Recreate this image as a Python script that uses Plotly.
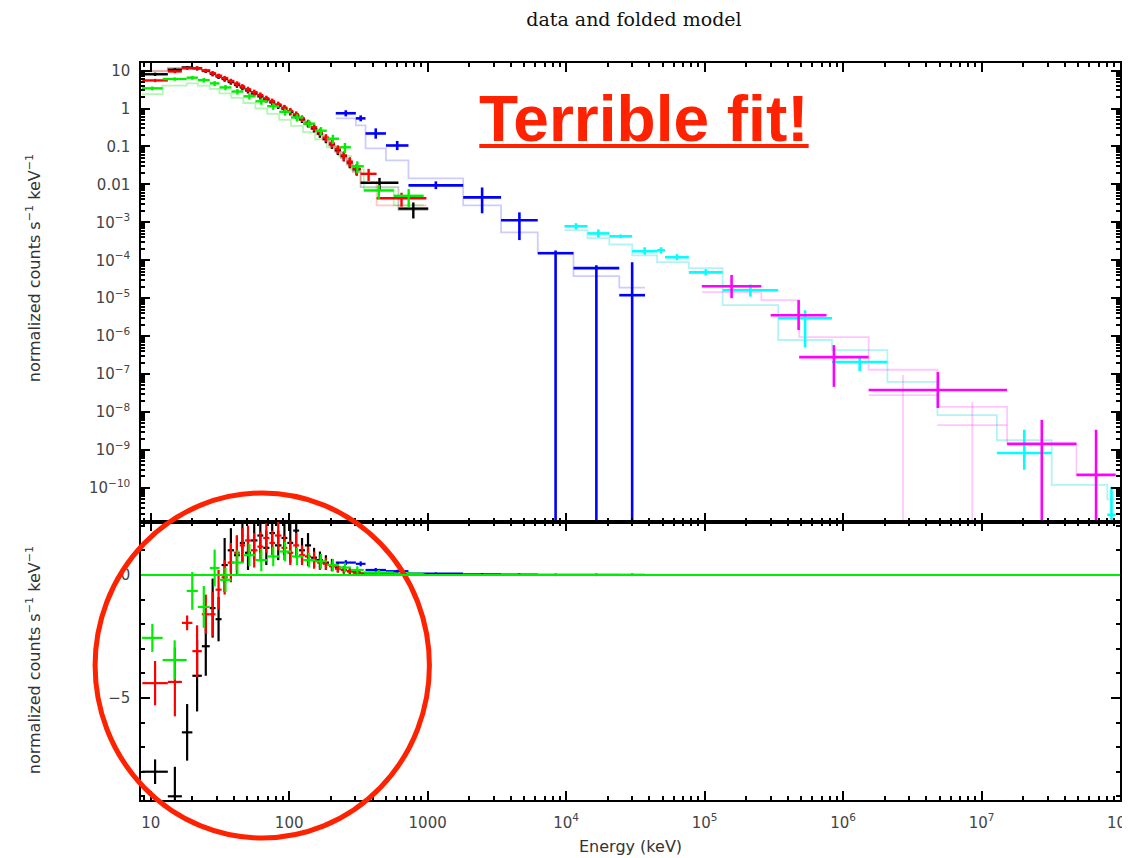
import math
import plotly.graph_objects as go

# ---------------- data (energies in keV) ----------------
# dataset 1 (black)
blk_edges = [8.7, 13.3, 16.8, 20, 23.4, 26.7, 29.4, 32.5, 36, 40, 44, 48, 53, 59, 65, 72, 79, 88, 97, 107,
             118, 130, 144, 159, 175, 194, 214, 236, 261, 288, 328, 615, 1010]
blk_flux = [8.0, 10.5, 12, 11.5, 9.8, 8.2, 7.0, 6.0, 5.0, 4.2, 3.6, 3.0, 2.5, 2.1, 1.75, 1.45, 1.2, 1.0, 0.82, 0.66,
            0.52, 0.4, 0.3, 0.22, 0.16, 0.115, 0.08, 0.056, 0.038, 0.025, 0.011, 0.0023]
blk_relerr = [0.1, 0.1, 0.1, 0.12, 0.12, 0.14, 0.14, 0.15, 0.15, 0.16, 0.16, 0.17, 0.17, 0.18, 0.18, 0.18, 0.19,
              0.19, 0.2, 0.2, 0.2, 0.21, 0.22, 0.23, 0.24, 0.25, 0.26, 0.28, 0.3, 0.32, 0.35, 0.45]
blk_model = [9.5, 11.5, 12.3, 11.8, 10.2, 8.7, 7.4, 6.3, 5.3, 4.4, 3.7, 3.1, 2.55, 2.1, 1.75, 1.45, 1.2, 0.98, 0.8,
             0.64, 0.5, 0.38, 0.29, 0.21, 0.15, 0.107, 0.074, 0.051, 0.034, 0.022, 0.0085, 0.0021]
blk_resid = [-8.0, -9.0, -6.4, -4.1, -2.9, -1.35, -1.8, 0.4, 1.0, 0.8, 1.3, 0.9, 1.4, 1.6, 1.1, 1.7, 1.2, 1.5, 1.3,
             1.8, 1.0, 1.2, 0.7, 0.6, 0.5, 0.4, 0.3, 0.2, 0.15, 0.1, 0.05, 0.02]
blk_resid_err = [0.5, 1.2, 1.15, 1.45, 1.2, 1.2, 0.9, 1.1, 0.9, 0.8, 0.8, 0.7, 0.8, 0.7, 0.7, 0.6, 0.6, 0.7, 0.8,
                 0.6, 0.5, 0.5, 0.4, 0.35, 0.3, 0.25, 0.2, 0.15, 0.12, 0.1, 0.06, 0.05]

# dataset 2 (red)
red_edges = [8.7, 13.3, 16.8, 20, 23.4, 26.7, 29.4, 32.5, 36, 40, 44, 48, 53, 59, 65, 72, 79, 88, 97, 107,
             118, 130, 144, 159, 175, 194, 214, 236, 261, 288, 328, 428, 980]
red_flux = [5.5, 9.5, 11.5, 11.5, 10, 8.5, 7.3, 6.3, 5.3, 4.5, 3.8, 3.2, 2.7, 2.25, 1.85, 1.55, 1.28, 1.05, 0.86,
            0.7, 0.55, 0.42, 0.32, 0.24, 0.17, 0.12, 0.085, 0.058, 0.04, 0.026, 0.019, 0.0043]
red_relerr = [0.1, 0.1, 0.1, 0.12, 0.12, 0.14, 0.14, 0.15, 0.15, 0.16, 0.16, 0.17, 0.17, 0.18, 0.18, 0.18, 0.19,
              0.19, 0.2, 0.2, 0.2, 0.21, 0.22, 0.23, 0.24, 0.25, 0.26, 0.28, 0.3, 0.32, 0.35, 0.4]
red_model = [10, 11.8, 12.5, 12, 10.5, 9, 7.7, 6.6, 5.5, 4.6, 3.9, 3.25, 2.7, 2.2, 1.8, 1.5, 1.22, 1.0, 0.81, 0.65,
             0.5, 0.38, 0.29, 0.21, 0.15, 0.105, 0.072, 0.049, 0.033, 0.021, 0.011, 0.0028]
red_resid = [-4.4, -4.35, -1.95, -3.1, -1.6, -1.6, -0.6, -0.1, 0.5, 0.9, 1.2, 1.4, 1.0, 1.15, 1.5, 1.3, 1.6, 1.1,
             0.9, 1.2, 0.8, 0.75, 0.6, 0.5, 0.45, 0.35, 0.25, 0.2, 0.15, 0.1, 0.05, 0.02]
red_resid_err = [0.9, 1.4, 0.3, 1.05, 0.8, 0.9, 0.8, 0.7, 0.8, 0.7, 0.7, 0.6, 0.7, 0.6, 0.6, 0.5, 0.6, 0.5, 0.5,
                 0.5, 0.4, 0.4, 0.35, 0.3, 0.25, 0.2, 0.15, 0.12, 0.1, 0.08, 0.06, 0.05]

# dataset 3 (green)
grn_edges = [8.66, 12.2, 18.2, 21.9, 26.7, 31.4, 38.3, 46.7, 57, 69.5, 84.8, 103, 126, 154, 187, 229, 279, 346,
             569, 936]
grn_flux = [3.4, 6.0, 6.5, 5.6, 4.6, 3.6, 2.8, 2.1, 1.55, 1.15, 0.82, 0.58, 0.4, 0.26, 0.16, 0.095, 0.03, 0.0069,
            0.005]
grn_relerr = [0.12, 0.1, 0.12, 0.14, 0.15, 0.16, 0.17, 0.18, 0.19, 0.2, 0.21, 0.22, 0.23, 0.25, 0.27, 0.3, 0.35,
              0.4, 0.5]
grn_model = [2.4, 4.0, 4.6, 4.0, 3.3, 2.5, 1.9, 1.4, 1.0, 0.72, 0.5, 0.35, 0.24, 0.155, 0.095, 0.056, 0.025,
             0.0075, 0.0028]
grn_resid = [-2.56, -3.46, -0.65, -1.3, 0.28, -0.2, 0.5, 0.8, 0.6, 0.75, 0.95, 0.75, 0.6, 0.55, 0.4, 0.3, 0.2, 0.1,
             0.05]
grn_resid_err = [0.57, 0.8, 0.77, 0.85, 0.75, 0.5, 0.5, 0.45, 0.45, 0.4, 0.4, 0.35, 0.3, 0.3, 0.25, 0.2, 0.15, 0.1,
                 0.08]

# dataset 4 (blue)
blu_edges = [217, 303, 356, 500, 727, 1806, 3390, 6240, 11300, 24200, 37150]
blu_flux = [0.75, 0.55, 0.22, 0.106, 0.0094, 0.00455, 0.00113, 1.53e-4, 6.2e-5, 1.2e-5]
blu_up = [0.9, 0.66, 0.3, 0.14, 0.012, 0.0083, 0.00183, 1.8e-4, 7.4e-5, 8.9e-5]
blu_dn = [0.62, 0.46, 0.16, 0.08, 0.0075, 0.00173, 3.4e-4, 1e-13, 1e-13, 1e-13]
blu_model = [0.55, 0.36, 0.089, 0.043, 0.0144, 0.0028, 5.4e-4, 1.6e-4, 3.8e-5, 1.9e-5]
blu_resid = [0.5, 0.45, 0.2, 0.15, 0.05, 0.02, 0.01, 0.0, 0.0, 0.0]
blu_resid_err = [0.1, 0.1, 0.08, 0.06, 0.05, 0.05, 0.05, 0.05, 0.05, 0.05]

# dataset 5 (cyan)
cyn_lo = [9730, 14260, 20500, 30000, 45400, 51800, 76900, 135000, 340000, 832000, 1.29e7, 8.1e7]
cyn_hi = [14260, 20500, 30000, 45400, 51800, 76900, 135000, 340000, 832000, 2.09e6, 3.21e7, 9.3e7]
cyn_flux = [7.85e-4, 5.1e-4, 4.27e-4, 1.73e-4, 1.83e-4, 1.2e-4, 4.8e-5, 1.62e-5, 2.97e-6, 2.08e-7, 8.3e-10, 1.95e-11]
cyn_up = [9.5e-4, 6.5e-4, 4.8e-4, 2.2e-4, 2.2e-4, 1.45e-4, 5.8e-5, 2.3e-5, 4.8e-6, 2.8e-7, 3.4e-9, 1.07e-10]
cyn_dn = [6.5e-4, 4.0e-4, 3.8e-4, 1.4e-4, 1.5e-4, 1.0e-4, 4.0e-5, 1.1e-5, 5.1e-7, 1.2e-7, 3.0e-10, 1.0e-11]
cyn_model_edges = [9730, 14260, 20500, 30000, 45400, 76900, 135000, 340000, 832000, 2.09e6, 4.8e6, 1.29e7, 3.21e7,
                   8.1e7, 9.3e7]
cyn_model = [6.2e-4, 3.8e-4, 2.6e-4, 1.35e-4, 8.9e-5, 6.2e-5, 6.6e-6, 7.9e-7, 4.3e-7, 6.2e-8, 8.3e-9, 1.8e-9,
             1.2e-10, 5e-11]

# dataset 6 (magenta)
mag_lo = [95500, 300000, 482000, 1.53e6, 1.53e7, 4.85e7]
mag_hi = [257000, 760000, 1.53e6, 1.53e7, 4.85e7, 9.3e7]
mag_flux = [2.07e-5, 3.55e-6, 2.8e-7, 3.8e-8, 1.44e-9, 2.2e-10]
mag_up = [4.1e-5, 8.9e-6, 5.8e-7, 1.13e-7, 6.2e-9, 3.4e-9]
mag_dn = [1.0e-5, 1.45e-6, 4.6e-8, 1.28e-8, 1e-13, 1e-13]
mag_model_edges = [95500, 257000, 482000, 1.53e6, 4.8e6, 1.53e7, 4.85e7, 9.3e7]
mag_model = [1.44e-5, 8.9e-6, 9.4e-7, 1.3e-7, 1.36e-8, 1.44e-9, 2.2e-10]
mag_faint_lo = [1.53e6, 4.8e6]
mag_faint_hi = [4.8e6, 1.53e7]
mag_faint_flux = [2.8e-8, 4.5e-9]
mag_faint_up = [9.4e-8, 1.8e-8]
mag_faint_dn = [1e-13, 1e-13]

# axis labels
x_tick_vals = [10, 100, 1000, 1e4, 1e5, 1e6, 1e7, 1e8]
x_tick_text = ["10", "100", "1000", "10<sup>4</sup>", "10<sup>5</sup>", "10<sup>6</sup>", "10<sup>7</sup>",
               "10<sup>8</sup>"]
y_tick_vals = [10, 1, 0.1, 0.01, 1e-3, 1e-4, 1e-5, 1e-6, 1e-7, 1e-8, 1e-9, 1e-10]
y_tick_text = ["10", "1", "0.1", "0.01", "10<sup>−3</sup>", "10<sup>−4</sup>", "10<sup>−5</sup>",
               "10<sup>−6</sup>", "10<sup>−7</sup>", "10<sup>−8</sup>", "10<sup>−9</sup>", "10<sup>−10</sup>"]
r_tick_vals = [0, -5]
r_tick_text = ["0", "−5"]

# ---------------- helpers ----------------
def crosses(lo, hi, val, dn, up):
    xs, ys = [], []
    for a, b, v, d, u in zip(lo, hi, val, dn, up):
        m = math.sqrt(a * b)
        xs += [a, b, None, m, m, None]
        ys += [v, v, None, d, u, None]
    return xs, ys


def steps(edges, levels):
    return list(edges), list(levels) + [levels[-1]]


def rel(vals, errs, sign):
    return [v * (1 + sign * e) for v, e in zip(vals, errs)]


def absr(vals, errs, sign):
    return [v + sign * e for v, e in zip(vals, errs)]


fig = go.Figure()


def add_line(x, y, color, width, axes, shape="linear"):
    fig.add_trace(go.Scatter(x=x, y=y, mode="lines", line=dict(color=color, width=width, shape=shape),
                             xaxis=axes[0], yaxis=axes[1], showlegend=False, hoverinfo="skip",
                             connectgaps=False))


TOP = ("x", "y")
BOT = ("x2", "y2")

BLK, RED, GRN, BLU, CYN, MAG = "#000000", "#ff0000", "#00ee00", "#0000ff", "#00ffff", "#ff00ff"
FBLK, FRED, FGRN = "rgba(0,0,0,0.22)", "rgba(255,0,0,0.22)", "rgba(0,230,0,0.3)"
FBLU, FCYN, FMAG = "rgba(0,0,255,0.2)", "rgba(0,220,220,0.3)", "rgba(255,0,255,0.22)"

# faint model steps
for edges, mod, col in [(blk_edges, blk_model, FBLK), (red_edges, red_model, FRED), (grn_edges, grn_model, FGRN),
                        (blu_edges, blu_model, FBLU), (cyn_model_edges, cyn_model, FCYN),
                        (mag_model_edges, mag_model, FMAG)]:
    sx, sy = steps(edges, mod)
    add_line(sx, sy, col, 1.8, TOP, shape="hv")

x, y = crosses(mag_faint_lo, mag_faint_hi, mag_faint_flux, mag_faint_dn, mag_faint_up)
add_line(x, y, FMAG, 1.8, TOP)

# bold data crosses, top panel
for edges, flux, err, col in [(blk_edges, blk_flux, blk_relerr, BLK), (red_edges, red_flux, red_relerr, RED),
                              (grn_edges, grn_flux, grn_relerr, GRN)]:
    x, y = crosses(edges[:-1], edges[1:], flux, rel(flux, err, -1), rel(flux, err, 1))
    add_line(x, y, col, 2.4, TOP)

x, y = crosses(blu_edges[:-1], blu_edges[1:], blu_flux, blu_dn, blu_up)
add_line(x, y, BLU, 2.6, TOP)
x, y = crosses(cyn_lo, cyn_hi, cyn_flux, cyn_dn, cyn_up)
add_line(x, y, CYN, 2.6, TOP)
x, y = crosses(mag_lo, mag_hi, mag_flux, mag_dn, mag_up)
add_line(x, y, MAG, 2.6, TOP)

# residuals, bottom panel
for edges, res, err, col in [(blu_edges, blu_resid, blu_resid_err, BLU), (blk_edges, blk_resid, blk_resid_err, BLK),
                             (red_edges, red_resid, red_resid_err, RED), (grn_edges, grn_resid, grn_resid_err, GRN)]:
    x, y = crosses(edges[:-1], edges[1:], res, absr(res, err, -1), absr(res, err, 1))
    add_line(x, y, col, 2.2, BOT)

# ---------------- layout ----------------
OFF = 8                      # page offset of the figure (body margin)
W, H = 1122, 850
L, R, T, B = 133, 8, 55, 58
pw, ph = W - L - R, H - T - B
split = (800 - 522) / ph
XR = [0.93, 8.0]


def px(xp):
    return (xp - OFF - L) / pw


def py(yp):
    return (H - B - (yp - OFF)) / ph


minor_x = [m * 10 ** k for k in range(0, 8) for m in range(2, 10)]
minor_y = [m * 10 ** k for k in range(-11, 2) for m in range(2, 10)]

tickfont = dict(family="DejaVu Sans, sans-serif", size=15, color="#444")
axis_common = dict(showline=True, linecolor="black", linewidth=1.5, mirror="allticks", ticks="inside",
                   ticklen=9, tickwidth=1.5, tickcolor="black", showgrid=False, zeroline=False,
                   tickfont=tickfont)

fig.update_layout(
    width=W, height=H, margin=dict(l=L, r=R, t=T, b=B),
    paper_bgcolor="white", plot_bgcolor="white", showlegend=False,
    title=dict(text="data and folded model", x=(634 - OFF) / W, xanchor="center", y=1 - (19 - OFF) / H,
               yanchor="middle", font=dict(family="DejaVu Serif, serif", size=19, color="#111")),
    xaxis=dict(type="log", range=XR, domain=[0, 1], anchor="y", matches="x2",
               tickmode="array", tickvals=x_tick_vals, showticklabels=False,
               minor=dict(tickmode="array", tickvals=minor_x, ticks="inside", ticklen=4, tickcolor="black"),
               **axis_common),
    yaxis=dict(type="log", range=[-10.9, 1.2], domain=[split, 1], anchor="x",
               tickmode="array", tickvals=y_tick_vals, ticktext=y_tick_text, ticklabelstandoff=6,
               minor=dict(tickmode="array", tickvals=minor_y, ticks="inside", ticklen=4, tickcolor="black"),
               **axis_common),
    xaxis2=dict(type="log", range=XR, domain=[0, 1], anchor="y2",
                tickmode="array", tickvals=x_tick_vals[:-1], ticktext=x_tick_text[:-1], ticklabelstandoff=8,
                minor=dict(tickmode="array", tickvals=minor_x, ticks="inside", ticklen=4, tickcolor="black"),
                **axis_common),
    yaxis2=dict(range=[-9.15, 2.15], domain=[0, split], anchor="x2",
                tickmode="array", tickvals=r_tick_vals, ticktext=r_tick_text, ticklabelstandoff=6,
                minor=dict(dtick=1, ticks="inside", ticklen=4, tickcolor="black"),
                **axis_common),
)

# last x tick label sits on the right edge of the frame (cut off by the page edge)
fig.add_annotation(text=x_tick_text[-1], xref="x2", yref="paper", x=math.log10(x_tick_vals[-1]), y=py(822),
                   xanchor="center", yanchor="middle", showarrow=False, font=tickfont)

lab_font = dict(family="DejaVu Sans, sans-serif", size=16, color="#333")
ylab = "normalized counts s<sup>−1</sup> keV<sup>−1</sup>"
fig.add_annotation(text=ylab, textangle=-90, xref="paper", yref="paper", x=px(33), y=py(268),
                   xanchor="center", yanchor="middle", showarrow=False, font=lab_font)
fig.add_annotation(text=ylab, textangle=-90, xref="paper", yref="paper", x=px(33), y=py(660),
                   xanchor="center", yanchor="middle", showarrow=False, font=lab_font)
fig.add_annotation(text="Energy (keV)", xref="paper", yref="paper", x=px(632), y=py(846),
                   xanchor="center", yanchor="middle", showarrow=False, font=lab_font)

# emphasis overlays
fig.add_annotation(text="<b>Terrible fit!</b>", xref="paper", yref="paper", x=px(645), y=py(119),
                   xanchor="center", yanchor="middle", showarrow=False,
                   font=dict(family="Liberation Sans, Arial, sans-serif", size=64, color="#ff2200"))
fig.add_shape(type="line", xref="paper", yref="paper", x0=px(480), x1=px(810), y0=py(146), y1=py(146),
              line=dict(color="#ff2200", width=4))
fig.add_shape(type="circle", xref="paper", yref="paper", x0=px(95), x1=px(430), y0=py(838), y1=py(493),
              line=dict(color="#ff2200", width=5))
# zero line of residual panel
fig.add_shape(type="line", xref="x2 domain", yref="y2", x0=0, x1=1, y0=0, y1=0,
              line=dict(color="#00ee00", width=2))

fig.write_html("out.html")
